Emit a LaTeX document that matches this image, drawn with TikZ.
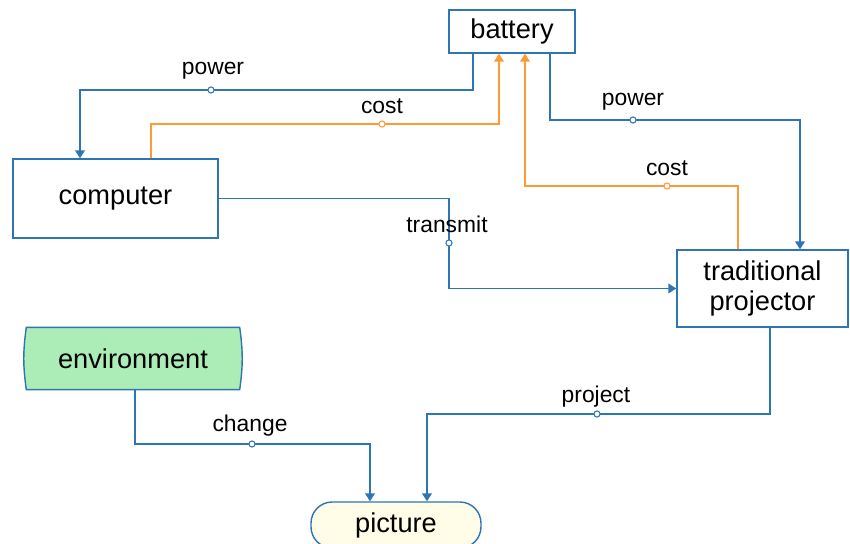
\documentclass[tikz,border=0pt]{standalone}
\usepackage{fontspec}
\setmainfont{Liberation Sans}
\usetikzlibrary{arrows.meta,backgrounds}
\definecolor{LineB}{RGB}{46,117,182}
\definecolor{CostO}{RGB}{255,153,51}
\definecolor{EnvG}{RGB}{172,236,182}
\definecolor{PicY}{RGB}{255,253,231}

\begin{document}
\begin{tikzpicture}[x=0.02cm,y=-0.02cm,
    box/.style={draw=LineB,line width=0.8pt,font=\fontsize{15.5}{17}\selectfont,align=center,inner sep=0pt},
    flow/.style={LineB,line width=0.75pt,-{Triangle[length=4.5pt,width=5.5pt]}},
    costflow/.style={flow,CostO},
    knot/.style={circle,draw=#1,fill=white,inner sep=0pt,minimum size=3.5pt,line width=0.6pt},
    knot/.default=LineB,
    tag/.style={font=\fontsize{13}{15}\selectfont,inner sep=0pt}]
        \useasboundingbox (0,0) rectangle (850,544);
        % blocks
        \node[box,minimum width=2.52cm,minimum height=0.86cm] (bat) at (512,31.5) {battery};
        \node[box,minimum width=4.1cm,minimum height=1.58cm] (comp) at (115.5,198.5) {computer};
        \node[box,minimum width=3.42cm,minimum height=1.54cm] (proj) at (762.5,288.5) {traditional\\projector};
        \node[box,draw=none,minimum width=4.24cm,minimum height=1.22cm] (env) at (133,358.5) {environment};
        \node[box,fill=PicY,rounded corners=12pt,minimum width=3.4cm,minimum height=0.92cm] (pic) at (396,525) {picture};
        \begin{scope}[on background layer]
          \draw[LineB,line width=0.8pt,fill=EnvG] (env.north west) to[bend right=8] (env.south west)
            -- (env.south east) to[bend right=8] (env.north east) -- cycle;
        \end{scope}
        % battery -> computer
        \draw[flow] (473,0 |- bat.south) |- (80,90) -- (80,0 |- comp.north);
        \node[knot] (k1) at (211,90) {};
        \node[tag] (t1) at (213,71) {power};
        % computer -> battery
        \draw[costflow] (151,0 |- comp.north) |- (499,124) -- (499,0 |- bat.south);
        \node[knot=CostO] (k2) at (382,124) {};
        \node[tag] (t2) at (382,106) {cost};
        % battery -> projector
        \draw[flow] (550,0 |- bat.south) |- (800,120) -- (800,0 |- proj.north);
        \node[knot] (k3) at (633,120) {};
        \node[tag] (t3) at (633,102) {power};
        % projector -> battery
        \draw[costflow] (738,0 |- proj.north) |- (525,186) -- (525,0 |- bat.south);
        \node[knot=CostO] (k4) at (667,186) {};
        \node[tag] (t4) at (667,168) {cost};
        % computer -> projector
        \draw[flow] (comp.east) -| (449,0 |- proj.west) -- (proj.west);
        \node[knot] (k5) at (449,243) {};
        \node[tag] (t5) at (447,224) {transmit};
        % environment -> picture
        \draw[flow] (135,0 |- env.south) |- (370,444) -- (370,0 |- pic.north);
        \node[knot] (k6) at (252,444) {};
        \node[tag] (t6) at (250,426) {change};
        % projector -> picture
        \draw[flow] (770,0 |- proj.south) |- (427,414) -- (427,0 |- pic.north);
        \node[knot] (k7) at (597,414) {};
        \node[tag] (t7) at (596,397) {project};
      \end{tikzpicture}
\end{document}
